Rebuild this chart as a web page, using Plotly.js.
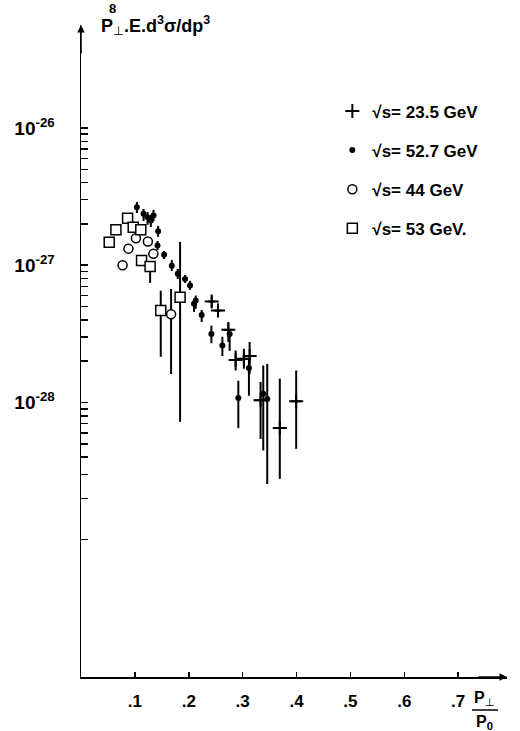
<!DOCTYPE html>
<html><head><meta charset="utf-8">
<script src="https://cdn.plot.ly/plotly-3.0.1.min.js"></script>
<style>html,body{margin:0;padding:0;background:#fff}#chart{width:520px;height:731px}</style>
</head><body><div id="chart"></div>
<script>
// axis ticks
const xTickVals = [0.1, 0.2, 0.3, 0.4, 0.5, 0.6, 0.7];
const xTickText = ['.1', '.2', '.3', '.4', '.5', '.6', '.7'];
const yTickVals = [1e-26, 1e-27, 1e-28, 1e-29];
const yTickText = ['10<sup>-26</sup>', '10<sup>-27</sup>', '10<sup>-28</sup>', ''];

// legend labels
const seriesNames = ['√s= 23.5 GeV', '√s= 52.7 GeV', '√s= 44 GeV', '√s= 53 GeV.'];

// sqrt(s) = 23.5 GeV (crosses)
const x235  = [0.2426, 0.2543, 0.2735, 0.287, 0.3024, 0.313, 0.3333, 0.369, 0.3994];
const y235  = [5.45e-28, 4.67e-28, 3.38e-28, 2.04e-28, 2.08e-28, 2.18e-28, 1.04e-28, 6.51e-29, 1.02e-28];
const hi235 = [6.01e-28, 5.23e-28, 3.86e-28, 2.39e-28, 2.46e-28, 2.76e-28, 1.41e-28, 1.49e-28, 1.71e-28];
const lo235 = [4.94e-28, 4.20e-28, 2.76e-28, 1.71e-28, 1.76e-28, 1.61e-28, 5.43e-29, 2.78e-29, 4.59e-29];
const dx235 = [0.006, 0.007, 0.008, 0.009, 0.008, 0.011, 0.011, 0.012, 0.009];

// sqrt(s) = 52.7 GeV (dots)
const x527  = [0.1037, 0.1161, 0.1235, 0.1296, 0.1346, 0.1431, 0.142, 0.1543, 0.1685, 0.1796, 0.1931,
               0.2024, 0.213, 0.2098, 0.224, 0.242, 0.2624, 0.2759, 0.3117, 0.292, 0.3383, 0.3457];
const y527  = [2.64e-27, 2.37e-27, 2.24e-27, 2.12e-27, 2.30e-27, 1.77e-27, 1.39e-27, 1.19e-27, 9.93e-28, 8.65e-28, 7.95e-28,
               7.11e-28, 5.53e-28, 5.23e-28, 4.33e-28, 3.16e-28, 2.60e-28, 3.16e-28, 1.78e-28, 1.08e-28, 1.16e-28, 1.06e-28];
const hi527 = [2.89e-27, 2.57e-27, 2.44e-27, 2.32e-27, 2.53e-27, 1.93e-27, 1.50e-27, 1.27e-27, 1.09e-27, 9.40e-28, 8.49e-28,
               7.69e-28, 6.01e-28, 5.69e-28, 4.72e-28, 3.63e-28, 3.01e-28, 3.27e-28, 2.08e-28, 1.44e-28, 1.86e-28, 1.91e-28];
const lo527 = [2.40e-27, 2.10e-27, 1.97e-27, 1.90e-27, 2.10e-27, 1.61e-27, 1.29e-27, 1.11e-27, 9.08e-28, 7.94e-28, 7.43e-28,
               6.61e-28, 4.81e-28, 4.57e-28, 3.86e-28, 2.70e-28, 2.18e-28, 2.38e-28, 1.12e-28, 6.50e-29, 4.47e-29, 2.55e-29];

// sqrt(s) = 44 GeV (open circles)
const x44  = [0.0772, 0.088, 0.1019, 0.1241, 0.1343, 0.1672];
const y44  = [1.00e-27, 1.32e-27, 1.57e-27, 1.49e-27, 1.21e-27, 4.39e-28];
const hi44 = [1.00e-27, 1.32e-27, 1.57e-27, 1.49e-27, 1.21e-27, 6.71e-28];
const lo44 = [1.00e-27, 1.32e-27, 1.57e-27, 1.49e-27, 1.21e-27, 1.61e-28];

// sqrt(s) = 53 GeV (open squares)
const x53  = [0.0524, 0.0648, 0.0865, 0.0969, 0.111, 0.1124, 0.1283, 0.148, 0.1839];
const y53  = [1.47e-27, 1.81e-27, 2.20e-27, 1.89e-27, 1.81e-27, 1.08e-27, 9.77e-28, 4.67e-28, 5.85e-28];
const hi53 = [1.47e-27, 1.81e-27, 2.20e-27, 1.89e-27, 1.81e-27, 1.08e-27, 9.77e-28, 6.53e-28, 1.48e-27];
const lo53 = [1.47e-27, 1.81e-27, 2.20e-27, 1.89e-27, 1.81e-27, 1.08e-27, 7.43e-28, 2.15e-28, 7.23e-29];

const plus = (hi, y) => hi.map((h, i) => Math.max(0, h - y[i]));
const minus = (lo, y) => lo.map((l, i) => Math.max(0, y[i] - l));

const FONT = 'Liberation Sans, Arial, sans-serif';
const PERP = '<span style="font-family:DejaVu Sans;font-weight:normal">⊥</span>';
const ebar = (hi, lo, y, t) => ({type: 'data', symmetric: false, array: plus(hi, y), arrayminus: minus(lo, y),
                                 color: 'black', thickness: t, width: 0});

// all y ticks: labelled decades plus unlabelled intermediate (2..9) ticks
const minorVals = [];
for (let e = -29; e <= -27; e++) for (let m = 2; m <= 9; m++) minorVals.push(m * Math.pow(10, e));
const allYTickVals = yTickVals.concat(minorVals);
const allYTickText = yTickText.concat(minorVals.map(() => ''));

const traces = [
  {x: x235, y: y235, type: 'scatter', mode: 'markers', name: seriesNames[0], legendgroup: 'a',
   marker: {symbol: 'cross-thin-open', size: 10, color: 'black', line: {color: 'black', width: 2}},
   error_y: ebar(hi235, lo235, y235, 2),
   error_x: {type: 'data', array: dx235, color: 'black', thickness: 2, width: 0}},
  {x: x527, y: y527, type: 'scatter', mode: 'markers', name: seriesNames[1], legendgroup: 'b',
   marker: {symbol: 'circle', size: 6, color: 'black'},
   error_y: ebar(hi527, lo527, y527, 2)},
  {x: x44, y: y44, type: 'scatter', mode: 'markers', name: seriesNames[2], legendgroup: 'c',
   marker: {symbol: 'circle', size: 9, color: 'white', line: {color: 'black', width: 1.5}},
   error_y: ebar(hi44, lo44, y44, 2)},
  {x: x53, y: y53, type: 'scatter', mode: 'markers', name: seriesNames[3], legendgroup: 'd',
   marker: {symbol: 'square', size: 10, color: 'white', line: {color: 'black', width: 1.5}},
   error_y: ebar(hi53, lo53, y53, 2)}
];

const layout = {
  width: 520, height: 731,
  margin: {l: 81, r: 13, t: 25, b: 54},
  paper_bgcolor: 'white', plot_bgcolor: 'white',
  font: {family: FONT, size: 15, color: 'black'},
  showlegend: true,
  legend: {x: 0.59, y: 0.895, xanchor: 'left', yanchor: 'top', bgcolor: 'rgba(0,0,0,0)',
           tracegroupgap: 14, traceorder: 'grouped', font: {family: FONT, size: 17, color: 'black', weight: 'bold'}},
  xaxis: {range: [0, 0.7907], showgrid: false, zeroline: false, showline: true, linecolor: 'black', linewidth: 1.5,
          ticks: 'inside', ticklen: 5, tickwidth: 1.5, tickcolor: 'black',
          tickmode: 'array', tickvals: xTickVals, ticktext: xTickText, ticklabelstandoff: 8,
          tickfont: {family: FONT, size: 17, color: 'black', weight: 'bold'}},
  yaxis: {type: 'log', range: [-30, -25.25], showgrid: false, zeroline: false, showline: true, linecolor: 'black', linewidth: 1.5,
          ticks: 'inside', ticklen: 7, tickwidth: 1.5, tickcolor: 'black',
          tickmode: 'array', tickvals: allYTickVals, ticktext: allYTickText, ticklabelstandoff: 21,
          tickfont: {family: FONT, size: 19, color: 'black', weight: 'bold'}},
  annotations: [
    {xref: 'paper', yref: 'paper', x: 0, y: 1, ax: 0, ay: 30, text: '', showarrow: true,
     arrowhead: 2, arrowsize: 1, arrowwidth: 1.5, arrowcolor: 'black'},
    {xref: 'paper', yref: 'paper', x: 1, y: 0, ax: -30, ay: 0, text: '', showarrow: true,
     arrowhead: 2, arrowsize: 1, arrowwidth: 1.5, arrowcolor: 'black'},
    {xref: 'paper', yref: 'paper', x: 0.043, y: 1.0, xanchor: 'left', yanchor: 'middle', showarrow: false,
     text: 'P<sub>' + PERP + '</sub>.E.d<sup>3</sup>σ/dp<sup>3</sup>', font: {family: FONT, size: 18, color: 'black', weight: 'bold'}},
    {xref: 'paper', yref: 'paper', x: 0.06, y: 1.025, xanchor: 'left', yanchor: 'middle', showarrow: false,
     text: '8', font: {family: FONT, size: 13, color: 'black', weight: 'bold'}},
    {xref: 'paper', yref: 'paper', x: (484 - 81) / 426, y: (677 - 699) / 652, xanchor: 'center', yanchor: 'middle', showarrow: false,
     text: 'P<sub>' + PERP + '</sub>', font: {family: FONT, size: 16, color: 'black', weight: 'bold'}},
    {xref: 'paper', yref: 'paper', x: (484 - 81) / 426, y: (677 - 722) / 652, xanchor: 'center', yanchor: 'middle', showarrow: false,
     text: 'P<sub>0</sub>', font: {family: FONT, size: 16, color: 'black', weight: 'bold'}}
  ],
  shapes: [
    {type: 'line', xref: 'paper', yref: 'paper', x0: (472 - 81) / 426, x1: (498 - 81) / 426,
     y0: (677 - 710) / 652, y1: (677 - 710) / 652, line: {color: 'black', width: 1.5}}
  ]
};

Plotly.newPlot('chart', traces, layout, {displayModeBar: false, staticPlot: true});
</script>
</body></html>
